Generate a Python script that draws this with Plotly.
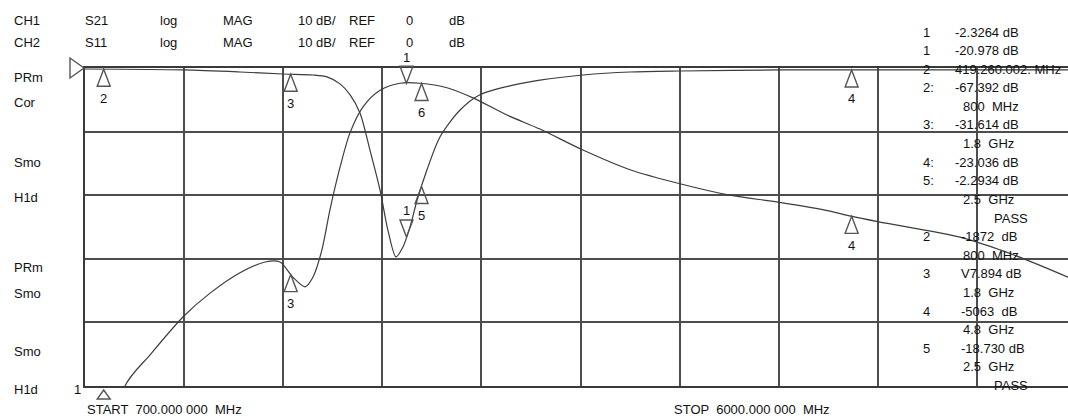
import numpy as np
import plotly.graph_objects as go

# ── Analyzer settings ──────────────────────────────────────────────────────────
START_MHZ = 700.0
STOP_MHZ = 6000.0
REF_DB = 0.0
SCALE_DB = 10.0          # dB / div
DIVS_X = 10
DIVS_Y = 5

# ── Traces (MHz, dB) ───────────────────────────────────────────────────────────
S21_FREQ = [700, 800, 914, 1048, 1229, 1369, 1529, 1663, 1743, 1812, 1877, 1919,
            1967, 2010, 2064, 2117, 2187, 2278, 2385, 2492, 2636, 2775, 2957, 3133,
            3363, 3615, 3882, 4149, 4406, 4684, 4796, 4946, 5380, 5594, 5738, 5957,
            6000]
S21_DB = [-75, -67.4, -50, -45.1, -39.0, -35.4, -32.2, -30.5, -30.5, -32.9, -34.4,
          -32.9, -28.6, -22.3, -15.6, -10.2, -6.1, -3.5, -2.4, -2.4, -3.1, -4.7,
          -7.4, -9.6, -12.9, -16.0, -18.2, -20.0, -21.1, -22.5, -23.3, -24.2, -26.6,
          -28.6, -30.2, -32.9, -33.5]

S11_FREQ = [700, 1224, 1529, 1759, 1919, 1994, 2064, 2117, 2171, 2224, 2278, 2320,
            2363, 2401, 2438, 2476, 2529, 2599, 2706, 2812, 2989, 3133, 3363, 3615,
            3882, 4417, 4952, 5470, 6000]
S11_DB = [-0.16, -0.31, -0.63, -0.94, -1.1, -1.4, -2.5, -4.2, -7.1, -12.9, -19.2,
          -25.5, -29.7, -28.1, -25.0, -20.8, -16.0, -10.8, -6.6, -4.2, -2.7, -1.9,
          -1.1, -0.63, -0.47, -0.31, -0.31, -0.3, -0.3]

# ── Markers ────────────────────────────────────────────────────────────────────
S21_MK_FREQ = [2419.26, 1800, 2500, 4800]
S21_MK_LABEL = ["1", "3", "6", "4"]
S21_MK_DOWN = [True, False, False, False]
S21_OFFSCALE_FREQ = 800          # marker below the screen (-67.392 dB)

S11_MK_FREQ = [800, 1800, 2500, 4800, 2419.26]
S11_MK_LABEL = ["2", "3", "5", "4", "1"]
S11_MK_DOWN = [False, False, False, False, True]

# ── Screen annotations ─────────────────────────────────────────────────────────
HEADER = [["CH1", "S21", "log", "MAG", "10 dB/", "REF", "0", "dB"],
          ["CH2", "S11", "log", "MAG", "10 dB/", "REF", "0", "dB"]]
LEFT_LABELS = ["PRm", "Cor", "Smo", "H1d", "PRm", "Smo", "Smo", "H1d"]

READOUT_NUM = ["1", "1", "2", "2:", "", "3:", "", "4:", "5:", "", "",
               "2", "", "3", "", "4", "", "5", "", ""]
READOUT_VAL = ["-2.3264 dB", "-20.978 dB", "419.260.002. MHz", "-67.392 dB",
               "800  MHz", "-31.614 dB", "1.8  GHz", "-23.036 dB", "-2.2934 dB",
               "2.5  GHz", "PASS", "-1872  dB", "800  MHz", "V7.894 dB", "1.8  GHz",
               "-5063  dB", "4.8  GHz", "-18.730 dB", "2.5  GHz", "PASS"]

# ── Geometry (pixels) ──────────────────────────────────────────────────────────
W, H = 1068, 416
PLOT_L, PLOT_T, PLOT_B = 85, 68, 386
GRID_R = 1076                     # right edge of the graticule (cropped off)
PLOT_W = W - PLOT_L
PLOT_H = PLOT_B - PLOT_T

Y_MAX = REF_DB
Y_MIN = REF_DB - SCALE_DB * DIVS_Y
X_MAX = START_MHZ + (STOP_MHZ - START_MHZ) * PLOT_W / (GRID_R - PLOT_L)

INK = "#111111"
GRID = "#4d4d4d"
TRACE = "#3c3c3c"
FONT = dict(family="Liberation Sans, Arial, sans-serif", size=13, color=INK)

TRI_H, TRI_W = 17, 6.5


def text_px(xpx, ypx, s, anchor="left"):
    return dict(xref="paper", yref="paper",
                x=(xpx - PLOT_L) / PLOT_W, y=(PLOT_B - ypx) / PLOT_H,
                text=s, showarrow=False, xanchor=anchor, yanchor="middle",
                font=FONT)


def yfrac(v):
    return (v - Y_MIN) / (Y_MAX - Y_MIN)


def tri_shape(f, v, down, tip=0, h=TRI_H):
    s = 1 if down else -1
    path = f"M0,{tip} L{TRI_W},{tip + s * h} L{-TRI_W},{tip + s * h} Z"
    return dict(type="path", xref="x", yref="paper", xsizemode="pixel",
                ysizemode="pixel", xanchor=f, yanchor=yfrac(v), path=path,
                line=dict(color="#555555", width=1.4),
                fillcolor="rgba(0,0,0,0)", layer="above")


fig = go.Figure()
for fr, db in [(S21_FREQ, S21_DB), (S11_FREQ, S11_DB)]:
    fig.add_trace(go.Scatter(x=fr, y=db, mode="lines",
                             line=dict(color=TRACE, width=1.2, shape="spline",
                                       smoothing=0.8),
                             hoverinfo="skip", showlegend=False))

shapes = []
annotations = []

# marker triangles + numbers
for mf, ml, md, fr, db in [(S21_MK_FREQ, S21_MK_LABEL, S21_MK_DOWN, S21_FREQ, S21_DB),
                           (S11_MK_FREQ, S11_MK_LABEL, S11_MK_DOWN, S11_FREQ, S11_DB)]:
    for f, lab, down in zip(mf, ml, md):
        v = float(np.interp(f, fr, db))
        shapes.append(tri_shape(f, v, down))
        annotations.append(dict(x=f, y=v, xref="x", yref="y", text=lab,
                                showarrow=False, yshift=26 if down else -29,
                                font=FONT))

# off-scale marker below the graticule
shapes.append(tri_shape(S21_OFFSCALE_FREQ, Y_MIN, False, tip=-4, h=9))

# reference level pointer at the left edge
shapes.append(dict(type="path", xref="paper", yref="paper", xsizemode="pixel",
                   ysizemode="pixel", xanchor=0, yanchor=yfrac(REF_DB),
                   path="M-1,0 L-15,10 L-15,-10 Z",
                   line=dict(color="#555555", width=1.4),
                   fillcolor="rgba(0,0,0,0)", layer="above"))

# header
header_x = [12, 83, 158, 221, 296, 347, 404, 447]
for row, ypx in zip(HEADER, [21, 42]):
    for s, xpx in zip(row, header_x):
        annotations.append(text_px(xpx, ypx, s))

# left status labels
for s, ypx in zip(LEFT_LABELS, [77, 102, 162, 197, 267, 293, 351, 389]):
    annotations.append(text_px(12, ypx, s))
annotations.append(text_px(72, 389, "1"))

# sweep limits
annotations.append(text_px(85, 409, f"START  {START_MHZ:.3f} 000  MHz"))
annotations.append(text_px(672, 409, f"STOP  {STOP_MHZ:.3f} 000  MHz"))

# marker readout block
for i, (num, val) in enumerate(zip(READOUT_NUM, READOUT_VAL)):
    ypx = 32 + 18.6 * i
    if num:
        annotations.append(text_px(921, ypx, num))
    if val == "PASS":
        xpx = 992
    elif val.endswith("Hz") and not val.startswith("419"):
        xpx = 961
    else:
        xpx = 953 if i < 10 else 959
    annotations.append(text_px(xpx, ypx, val))

fig.update_layout(
    width=W, height=H,
    margin=dict(l=PLOT_L, r=W - PLOT_L - PLOT_W, t=PLOT_T, b=H - PLOT_B),
    paper_bgcolor="white", plot_bgcolor="white",
    showlegend=False,
    xaxis=dict(range=[START_MHZ, X_MAX], tick0=START_MHZ,
               dtick=(STOP_MHZ - START_MHZ) / DIVS_X,
               showticklabels=False, ticks="", showgrid=True, gridcolor=GRID,
               gridwidth=1.6, zeroline=False, showline=True, mirror=True,
               linecolor="#3a3a3a", linewidth=2.2),
    yaxis=dict(range=[Y_MIN, Y_MAX], tick0=Y_MIN, dtick=SCALE_DB,
               showticklabels=False, ticks="", showgrid=True, gridcolor=GRID,
               gridwidth=1.6, zeroline=False, showline=True,
               linecolor="#3a3a3a", linewidth=1.6),
    shapes=shapes,
    annotations=annotations,
)

# the page's default body margin would push the figure 8 px right and down
fig.write_html("out.html", config={"displayModeBar": False},
               post_script="document.body.style.margin='0px';")
